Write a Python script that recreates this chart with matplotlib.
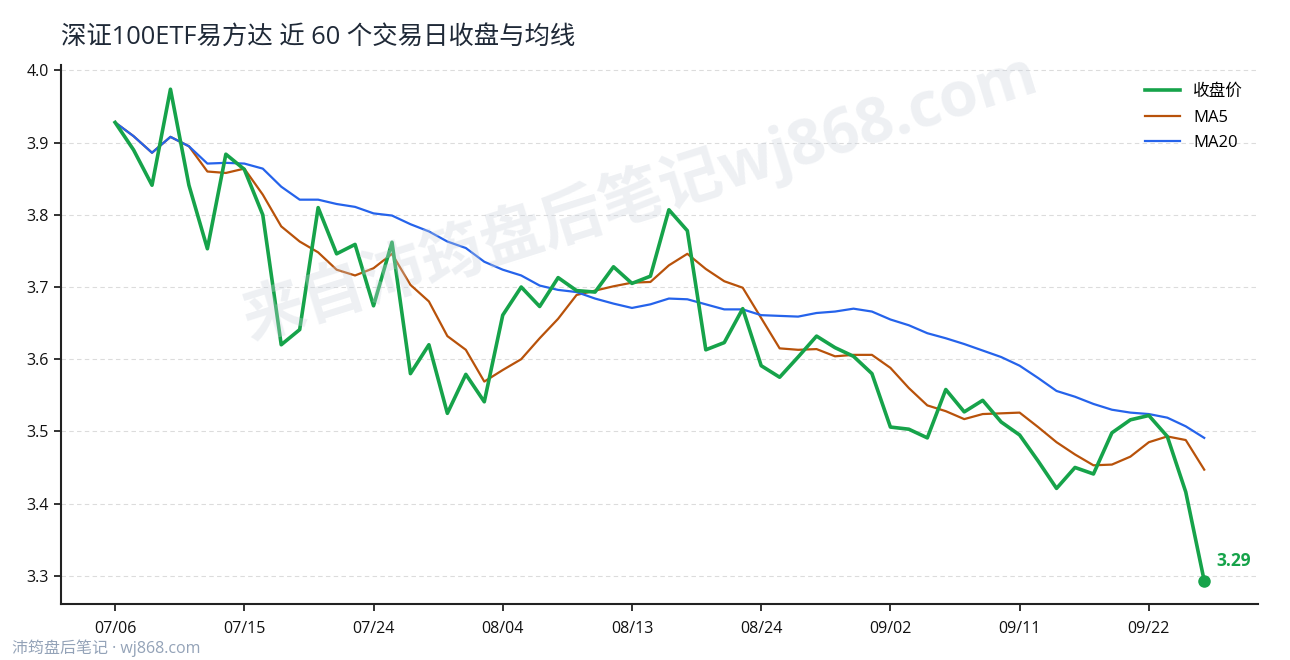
import matplotlib

matplotlib.use("Agg")
import matplotlib.pyplot as plt
import numpy as np

plt.rcParams["font.family"] = ["Open Sans", "Noto Sans CJK SC", "DejaVu Sans"]

# 近 60 个交易日数据
close = [
    3.928, 3.890, 3.841, 3.974, 3.841, 3.753, 3.884, 3.863, 3.800, 3.620,
    3.641, 3.810, 3.746, 3.759, 3.674, 3.762, 3.580, 3.620, 3.525, 3.579,
    3.541, 3.661, 3.700, 3.673, 3.713, 3.695, 3.693, 3.728, 3.705, 3.715,
    3.807, 3.778, 3.613, 3.623, 3.670, 3.591, 3.575, 3.603, 3.632, 3.616,
    3.604, 3.580, 3.506, 3.503, 3.491, 3.558, 3.527, 3.543, 3.513, 3.495,
    3.459, 3.421, 3.450, 3.441, 3.498, 3.516, 3.522, 3.493, 3.416, 3.293,
]
ma5 = [
    3.928, 3.909, 3.886, 3.908, 3.895, 3.860, 3.858, 3.864, 3.828, 3.784,
    3.763, 3.748, 3.724, 3.716, 3.726, 3.746, 3.703, 3.680, 3.632, 3.613,
    3.569, 3.585, 3.600, 3.629, 3.656, 3.689, 3.695, 3.701, 3.706, 3.707,
    3.730, 3.746, 3.725, 3.708, 3.699, 3.657, 3.615, 3.613, 3.614, 3.604,
    3.606, 3.606, 3.588, 3.560, 3.536, 3.528, 3.517, 3.524, 3.525, 3.526,
    3.506, 3.485, 3.468, 3.453, 3.454, 3.465, 3.485, 3.493, 3.488, 3.447,
]
ma20 = [
    3.928, 3.909, 3.886, 3.908, 3.895, 3.871, 3.872, 3.871, 3.864, 3.839,
    3.821, 3.821, 3.815, 3.811, 3.802, 3.799, 3.787, 3.777, 3.763, 3.754,
    3.735, 3.724, 3.716, 3.702, 3.696, 3.693, 3.684, 3.677, 3.671, 3.676,
    3.684, 3.683, 3.676, 3.669, 3.669, 3.661, 3.660, 3.659, 3.664, 3.666,
    3.670, 3.666, 3.655, 3.647, 3.636, 3.629, 3.621, 3.612, 3.603, 3.591,
    3.574, 3.556, 3.548, 3.538, 3.530, 3.526, 3.524, 3.519, 3.507, 3.491,
]
tick_labels = ["07/06", "07/15", "07/24", "08/04", "08/13", "08/24", "09/02", "09/11", "09/22"]

title = "深证100ETF易方达 近 60 个交易日收盘与均线"
c_close = "#16a34a"
c_ma5 = "#b8520a"
c_ma20 = "#2563eb"

x = np.arange(len(close))

fig = plt.figure(figsize=(12.9, 6.6), dpi=100)
ax = fig.add_axes([0.047, 0.085, 0.928, 0.817])

# 水印
fig.text(0.496, 0.702, "来自沛筠盘后笔记wj868.com", fontsize=45, color="#cbd2dc", alpha=0.33,
         rotation=17.5, ha="center", va="center", fontweight="bold", zorder=0)

ax.plot(x, close, color=c_close, lw=2.6, label="收盘价", zorder=3)
ax.plot(x, ma5, color=c_ma5, lw=1.6, label="MA5", zorder=2)
ax.plot(x, ma20, color=c_ma20, lw=1.6, label="MA20", zorder=2)

ax.plot([x[-1]], [close[-1]], "o", color=c_close, ms=8, zorder=4)
ax.annotate(f"{close[-1]:.2f}", (x[-1], close[-1]), xytext=(9, 14), textcoords="offset points",
            color=c_close, fontsize=12.5, fontweight="bold", ha="left", va="center")

ax.set_xlim(-2.95, 61.9)
ax.set_ylim(3.261, 4.008)
ax.set_xticks(x[::7][: len(tick_labels)])
ax.set_xticklabels(tick_labels)
ax.set_yticks(np.arange(3.3, 4.01, 0.1))
ax.yaxis.set_major_formatter(matplotlib.ticker.FormatStrFormatter("%.1f"))
ax.tick_params(labelsize=11.5, colors="#111111", length=5, width=1.2)
ax.tick_params(axis="x", pad=7)

ax.grid(axis="y", ls=(0, (4, 3)), color="#dcdcdc", lw=0.8)
ax.set_axisbelow(True)
for s in ("top", "right"):
    ax.spines[s].set_visible(False)
for s in ("left", "bottom"):
    ax.spines[s].set_linewidth(1.5)
    ax.spines[s].set_color("#222222")
ax.patch.set_alpha(0)

ax.legend(loc="upper right", frameon=False, fontsize=12, handlelength=2.1,
          bbox_to_anchor=(1.0, 0.992), labelspacing=0.58)

fig.text(0.047, 0.943, title, fontsize=18.3, color="#1f2937", ha="left", va="center")
fig.text(0.009, 0.018, "沛筠盘后笔记 · wj868.com", fontsize=11.5, color="#94a3b8", ha="left", va="center")

fig.savefig("out.png", dpi=100)
